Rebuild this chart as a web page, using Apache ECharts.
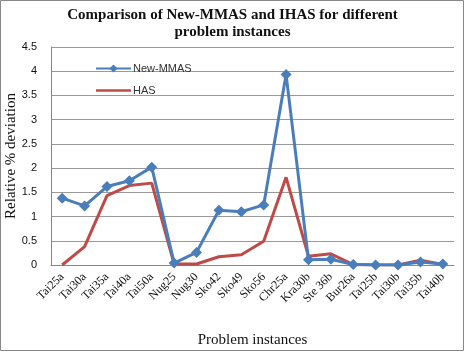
<!DOCTYPE html>
<html lang="en">
<head>
    <meta charset="UTF-8" />
    <title>Comparison of New-MMAS and IHAS</title>
    <script src="https://cdn.jsdelivr.net/npm/echarts@6/dist/echarts.min.js"></script>
    <style>
        html, body { margin: 0; padding: 0; background: #fff; }
        #main { width: 465px; height: 352px; }
    </style>
</head>
<body>
<div id="main"></div>
<script type="text/javascript">
    var instances = ['Tai25a', 'Tai30a', 'Tai35a', 'Tai40a', 'Tai50a', 'Nug25', 'Nug30', 'Sko42', 'Sko49',
        'Sko56', 'Chr25a', 'Kra30b', 'Ste 36b', 'Bur26a', 'Tai25b', 'Tai30b', 'Tai35b', 'Tai40b'];
    var newMmas = [1.38, 1.22, 1.62, 1.74, 2.02, 0.04, 0.26, 1.13, 1.10, 1.24, 3.93, 0.11, 0.12, 0.01, 0, 0, 0.06, 0.02];
    var has = [0, 0.38, 1.43, 1.64, 1.69, 0.02, 0.02, 0.17, 0.21, 0.49, 1.81, 0.18, 0.23, 0.01, 0, 0, 0.10, 0.01];

    var serif = '"Liberation Serif", "DejaVu Serif", serif';
    var sans = '"Liberation Sans", Arial, sans-serif';
    var chart = echarts.init(document.getElementById('main'));
    chart.setOption({
        animation: false,
        title: {
            text: 'Comparison of New-MMAS and IHAS for different\nproblem instances',
            left: 'center',
            top: 2,
            textStyle: { fontFamily: serif, fontSize: 15, fontWeight: 'bold', color: '#111', lineHeight: 17 }
        },
        graphic: [{
            type: 'rect',
            shape: { x: 0.5, y: 0.5, width: 463, height: 350 },
            style: { fill: 'none', stroke: '#888', lineWidth: 1 }
        }],
        legend: {
            orient: 'vertical',
            left: 90,
            top: 58,
            itemWidth: 35,
            itemHeight: 10,
            itemGap: 11,
            textStyle: { fontFamily: sans, fontSize: 11, color: '#333', padding: [0, 0, 0, -3] },
            data: [
                { name: 'New-MMAS' },
                { name: 'HAS', icon: 'path://M0,4L35,4L35,6.5L0,6.5Z' }
            ]
        },
        grid: { left: 51, right: 11, top: 47, bottom: 87, outerBoundsMode: 'none' },
        xAxis: {
            type: 'category',
            data: instances,
            boundaryGap: true,
            name: 'Problem instances',
            nameLocation: 'middle',
            nameMoveOverlap: false,
            nameGap: 68,
            nameTextStyle: { fontFamily: serif, fontSize: 15, color: '#111' },
            axisLine: { lineStyle: { color: '#888' } },
            axisTick: { show: false },
            axisLabel: { interval: 0, rotate: 45, fontFamily: serif, fontSize: 12, color: '#111', margin: 10 }
        },
        yAxis: {
            type: 'value',
            min: 0,
            max: 4.5,
            interval: 0.5,
            name: 'Relative % deviation',
            nameLocation: 'middle',
            nameMoveOverlap: false,
            nameGap: 32,
            nameTextStyle: { fontFamily: serif, fontSize: 15, color: '#111' },
            axisLine: { show: true, lineStyle: { color: '#888' } },
            axisTick: { show: false },
            axisLabel: { fontFamily: sans, fontSize: 11, color: '#111', margin: 14 },
            splitLine: { lineStyle: { color: '#999' } }
        },
        series: [{
            name: 'New-MMAS',
            type: 'line',
            data: newMmas,
            color: '#4a7ebb',
            symbol: 'diamond',
            symbolSize: 11,
            lineStyle: { width: 3, color: '#4a7ebb' },
            itemStyle: { color: '#4a7ebb' },
            z: 3
        }, {
            name: 'HAS',
            type: 'line',
            data: has,
            color: '#be4b48',
            symbol: 'none',
            lineStyle: { width: 3, color: '#be4b48' },
            itemStyle: { color: '#be4b48' },
            z: 2
        }]
    });
</script>
</body>
</html>
